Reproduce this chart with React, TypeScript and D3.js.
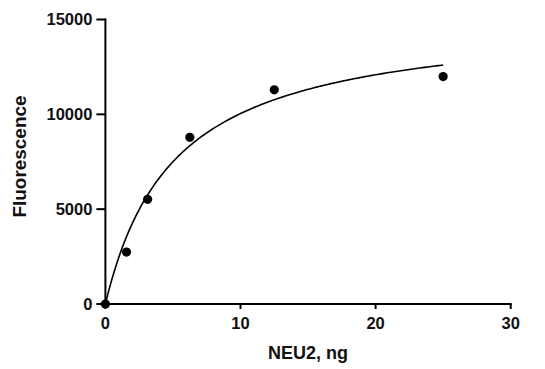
import * as d3 from "d3";

// measured points
const neu2 = [0, 1.5625, 3.125, 6.25, 12.5, 25];
const fluorescence = [0, 2740, 5520, 8790, 11290, 11990];

// hyperbola fit (Vmax * x / (Km + x)), params
const fitVmax = 15180;
const fitKm = 5.12;
const fitEnd = 25;

const xTicks = [0, 10, 20, 30];
const yTicks = [0, 5000, 10000, 15000];

export default function App() {
  const width = 545;
  const height = 369;
  const font = "'Liberation Sans', Arial, sans-serif";

  const x = d3.scaleLinear().domain([0, 30]).range([105.4, 510.7]);
  const y = d3.scaleLinear().domain([0, 15000]).range([304, 19.5]);

  const fitXs = d3.range(0, fitEnd + 0.001, fitEnd / 200);
  const line = d3
    .line<number>()
    .x((d) => x(d))
    .y((d) => y((fitVmax * d) / (fitKm + d)));

  return (
    <svg
      width={width}
      height={height}
      style={{ position: "absolute", left: 0, top: 0, background: "#fff" }}
      fontFamily={font}
    >
      {/* y axis */}
      <line x1={x(0)} x2={x(0)} y1={y(15000) - 1} y2={y(0) + 1} stroke="#000" strokeWidth={2} />
      {yTicks.map((t) => (
        <g key={"y" + t}>
          <line x1={x(0) - 9} x2={x(0)} y1={y(t)} y2={y(t)} stroke="#000" strokeWidth={2} />
          <text
            x={x(0) - 13}
            y={y(t)}
            dy="0.34em"
            textAnchor="end"
            fontSize={16.5}
            fontWeight="bold"
            fill="#111"
          >
            {t}
          </text>
        </g>
      ))}
      {/* x axis */}
      <line x1={x(0) - 1} x2={x(30) + 1} y1={y(0)} y2={y(0)} stroke="#000" strokeWidth={2} />
      {xTicks.map((t) => (
        <g key={"x" + t}>
          <line x1={x(t)} x2={x(t)} y1={y(0)} y2={y(0) + 5} stroke="#000" strokeWidth={2} />
          <text
            x={x(t)}
            y={329}
            textAnchor="middle"
            fontSize={16.5}
            fontWeight="bold"
            fill="#111"
          >
            {t}
          </text>
        </g>
      ))}
      <text
        x={308}
        y={359}
        textAnchor="middle"
        fontSize={18}
        fontWeight="bold"
        fill="#111"
      >
        NEU2, ng
      </text>
      <text
        transform={`translate(25.5,156.5) rotate(-90)`}
        textAnchor="middle"
        fontSize={17.5}
        fontWeight="bold"
        fill="#111"
        textLength={122}
        lengthAdjust="spacingAndGlyphs"
      >
        Fluorescence
      </text>
      {/* fit curve */}
      <path d={line(fitXs) ?? ""} fill="none" stroke="#000" strokeWidth={1.6} />
      {/* points */}
      {neu2.map((v, i) => (
        <circle key={"p" + i} cx={x(v)} cy={y(fluorescence[i])} r={4.6} fill="#000" />
      ))}
    </svg>
  );
}
